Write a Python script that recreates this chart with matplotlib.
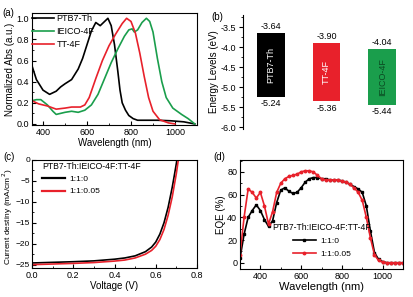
import matplotlib
matplotlib.use('Agg')
import matplotlib.pyplot as plt
from matplotlib.ticker import MultipleLocator

plt.rcParams['font.family'] = ['Liberation Sans', 'DejaVu Sans']
plt.rcParams['font.size'] = 6.5
plt.rcParams['xtick.direction'] = 'in'
plt.rcParams['ytick.direction'] = 'in'
plt.rcParams['axes.linewidth'] = 0.8

BLACK = '#000000'
RED = '#e8212b'
GREEN = '#1a9e4c'

# (a) normalized absorption
wl_ptb7 = [350, 370, 400, 430, 460, 480, 500, 530, 560, 580, 600, 620, 640, 660, 680, 695, 710, 725,
           740, 750, 760, 775, 790, 810, 830, 870, 920, 980, 1040, 1090]
abs_ptb7 = [0.55, 0.42, 0.32, 0.28, 0.31, 0.35, 0.38, 0.42, 0.52, 0.62, 0.75, 0.88, 0.96, 0.93, 0.97, 1.0,
            0.93, 0.75, 0.5, 0.32, 0.2, 0.13, 0.08, 0.05, 0.035, 0.035, 0.035, 0.03, 0.02, 0.0]
wl_ieico = [350, 370, 390, 420, 445, 460, 480, 500, 530, 560, 590, 620, 650, 680, 710, 740, 770, 790,
            805, 815, 830, 850, 870, 885, 900, 920, 940, 960, 990, 1030, 1060, 1090]
abs_ieico = [0.22, 0.23, 0.23, 0.18, 0.12, 0.09, 0.1, 0.11, 0.12, 0.11, 0.13, 0.18, 0.28, 0.43, 0.58,
             0.71, 0.83, 0.89, 0.9, 0.87, 0.89, 0.96, 1.0, 0.97, 0.87, 0.62, 0.4, 0.25, 0.15, 0.09, 0.05, 0.0]
wl_tt = [350, 380, 420, 460, 500, 530, 570, 590, 610, 640, 670, 700, 730, 760, 780, 800, 820, 840, 860,
         880, 900, 930, 970, 1000]
abs_tt = [0.22, 0.19, 0.17, 0.14, 0.15, 0.16, 0.16, 0.18, 0.25, 0.43, 0.6, 0.74, 0.85, 0.95, 1.0, 0.97,
          0.86, 0.67, 0.45, 0.25, 0.12, 0.04, 0.01, 0.0]

# (b) energy levels
materials = ['PTB7-Th', 'TT-4F', 'IEICO-4F']
lumo = [-3.64, -3.90, -4.04]
homo = [-5.24, -5.36, -5.44]
bar_colors = [BLACK, RED, GREEN]
text_colors = ['white', 'white', '#0b4a22']

# (c) J-V curves
volt = [0.0, 0.1, 0.2, 0.3, 0.4, 0.45, 0.5, 0.55, 0.58, 0.6, 0.62, 0.64, 0.66, 0.68, 0.69, 0.7, 0.71, 0.72]
j_ref = [-24.6, -24.45, -24.3, -24.1, -23.7, -23.4, -22.9, -21.9, -20.8, -19.6, -17.7, -15.0, -11.3,
         -6.5, -3.7, -0.8, 2.5, 6.0]
j_tt = [-25.0, -24.85, -24.7, -24.5, -24.15, -23.9, -23.4, -22.5, -21.6, -20.6, -19.0, -16.6, -13.2,
        -8.8, -6.0, -3.2, 0.2, 4.0]

# (d) EQE
wl_eqe = [300, 320, 340, 360, 380, 400, 420, 440, 460, 480, 500, 520, 540, 560, 580, 600, 620, 640,
          660, 680, 700, 720, 740, 760, 780, 800, 820, 840, 860, 880, 900, 920, 940, 960, 980, 1000,
          1020, 1040, 1060, 1080, 1100]
eqe_ref = [4, 25, 40, 46, 51, 46, 38, 32, 37, 53, 64, 66, 63, 61, 62, 66, 71, 74, 75, 75, 74, 74, 73,
           73, 73, 72, 71, 69, 67, 65, 62, 50, 28, 9, 3, 1, 0, 0, 0, 0, 0]
eqe_tt = [7, 40, 65, 62, 57, 62, 50, 34, 45, 62, 70, 74, 76, 77, 78, 80, 81, 81, 80, 77, 74, 73, 73,
          73, 73, 72, 71, 69, 66, 62, 55, 40, 22, 7, 2, 0.5, 0, 0, 0, 0, 0]

W, H = 413.0, 297.0
fig = plt.figure(figsize=(W / 100, H / 100), dpi=100)


def px_axes(x0, y0, x1, y1):
    return fig.add_axes([x0 / W, 1 - y1 / H, (x1 - x0) / W, (y1 - y0) / H])


def ticks(ax):
    ax.tick_params(pad=2, length=3, labelsize=6.5)
    ax.tick_params(which='minor', length=1.5)


# ---- (a)
ax = px_axes(32, 13, 197, 125)
ax.plot(wl_ptb7, abs_ptb7, color=BLACK, lw=1.2, label='PTB7-Th')
ax.plot(wl_ieico, abs_ieico, color=GREEN, lw=1.2, label='IEICO-4F')
ax.plot(wl_tt, abs_tt, color=RED, lw=1.2, label='TT-4F')
ax.set_xlim(350, 1100)
ax.set_ylim(-0.01, 1.05)
ax.xaxis.set_major_locator(MultipleLocator(200))
ax.xaxis.set_minor_locator(MultipleLocator(100))
ax.yaxis.set_major_locator(MultipleLocator(0.2))
ax.yaxis.set_minor_locator(MultipleLocator(0.1))
ax.set_xlabel('Wavelength (nm)', labelpad=1, fontsize=7)
ax.set_ylabel('Normalized Abs (a.u.)', labelpad=1, fontsize=7)
ax.legend(loc='upper left', bbox_to_anchor=(0.0, 0.99), frameon=False, fontsize=6.5,
          handlelength=2.4, labelspacing=0.45, borderaxespad=0, borderpad=0, handletextpad=0.3)
ticks(ax)
fig.text(2 / W, 1 - 16 / H, '(a)', fontsize=7)

# ---- (b)
ax = px_axes(243, 15, 410, 129)
pos = list(range(len(materials)))
heights = [l - h for l, h in zip(lumo, homo)]
ax.bar(pos, heights, bottom=homo, width=0.5, color=bar_colors)
for i in pos:
    ax.text(i, lumo[i] + 0.04, '%.2f' % lumo[i], ha='center', va='bottom', fontsize=6.5)
    ax.text(i, homo[i] - 0.06, '%.2f' % homo[i], ha='center', va='top', fontsize=6.5)
    ax.text(i, (lumo[i] + homo[i]) / 2, materials[i], rotation=90, ha='center', va='center',
            color=text_colors[i], fontsize=6.5)
ax.set_xlim(-0.5, 2.5)
ax.set_ylim(-6.05, -3.2)
ax.yaxis.set_major_locator(MultipleLocator(0.5))
ax.yaxis.set_minor_locator(MultipleLocator(0.25))
ax.yaxis.set_major_formatter(plt.FuncFormatter(lambda v, p: '%.1f' % v))
ax.set_xticks([])
for s in ['top', 'right', 'bottom']:
    ax.spines[s].set_visible(False)
ax.set_ylabel('Energy Levels (eV)', labelpad=1, fontsize=7)
ax.tick_params(axis='y', direction='out', pad=2, length=3, labelsize=6.5)
ax.tick_params(axis='y', which='minor', direction='out', length=1.5)
fig.text(211 / W, 1 - 20 / H, '(b)', fontsize=7)

# ---- (c)
ax = px_axes(32, 160, 197, 268)
ax.plot(volt, j_ref, color=BLACK, lw=1.2, label='1:1:0')
ax.plot(volt, j_tt, color=RED, lw=1.2, label='1:1:0.05')
ax.set_xlim(0, 0.8)
ax.set_ylim(-25.8, 0)
ax.xaxis.set_major_locator(MultipleLocator(0.2))
ax.xaxis.set_minor_locator(MultipleLocator(0.1))
ax.yaxis.set_major_locator(MultipleLocator(5))
ax.yaxis.set_minor_locator(MultipleLocator(2.5))
ax.set_xlabel('Voltage (V)', labelpad=1, fontsize=7)
ax.set_ylabel('Current destiny (mA/cm$^2$)', labelpad=0, fontsize=6)
leg = ax.legend(loc='upper left', bbox_to_anchor=(0.06, 0.985), frameon=False, fontsize=6,
                title='PTB7-Th:IEICO-4F:TT-4F', title_fontsize=6.2, alignment='left',
                handlelength=2.8, labelspacing=0.55, borderaxespad=0, borderpad=0,
                handletextpad=0.5)
for ln in leg.get_lines():
    ln.set_linewidth(1.6)
ticks(ax)
ax.tick_params(axis='y', labelsize=6, pad=1.5)
ax.yaxis.set_label_coords(-0.1, 0.47)
fig.text(3 / W, 1 - 157 / H, '(c)', fontsize=7, va='center')

# ---- (d)
ax = px_axes(240, 160, 403, 269)
ax.plot(wl_eqe, eqe_ref, color=BLACK, lw=1.2, marker='s', ms=1.8, label='1:1:0')
ax.plot(wl_eqe, eqe_tt, color=RED, lw=1.2, marker='o', ms=1.8, label='1:1:0.05')
ax.set_xlim(300, 1100)
ax.set_ylim(-5.5, 90.5)
ax.xaxis.set_major_locator(MultipleLocator(200))
ax.xaxis.set_minor_locator(MultipleLocator(100))
ax.yaxis.set_major_locator(MultipleLocator(20))
ax.yaxis.set_minor_locator(MultipleLocator(10))
ax.set_xlabel('Wavelength (nm)', labelpad=1, fontsize=8)
ax.set_ylabel('EQE (%)', labelpad=1, fontsize=7)
leg = ax.legend(loc='upper left', bbox_to_anchor=(0.2, 0.42), frameon=False, fontsize=6,
                title='PTB7-Th:IEICO-4F:TT-4F', title_fontsize=6.2, numpoints=1,
                handlelength=2.8, labelspacing=0.6, borderaxespad=0, borderpad=0,
                handletextpad=0.5)
ticks(ax)
fig.text(213 / W, 1 - 157 / H, '(d)', fontsize=7, va='center')

fig.savefig('out.png', dpi=100)
